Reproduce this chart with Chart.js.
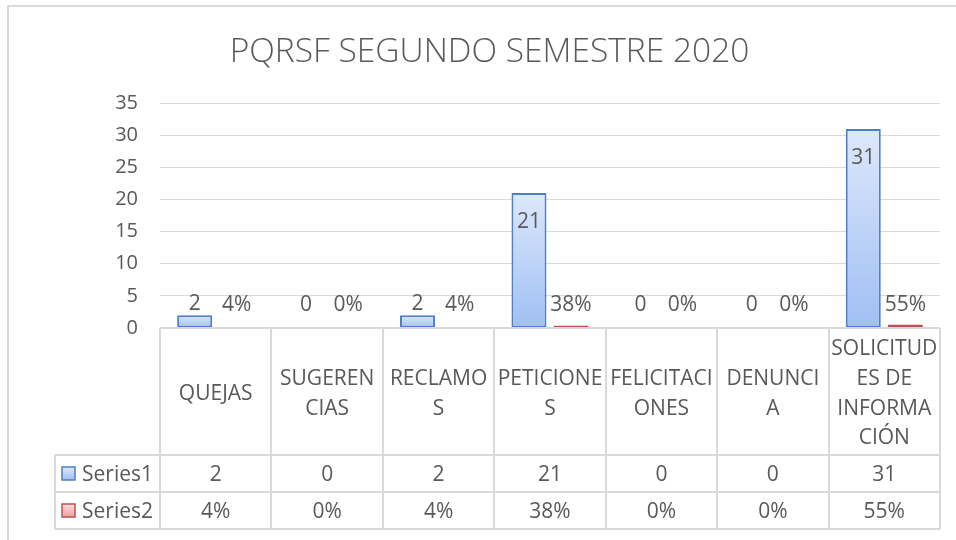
<!DOCTYPE html>
<html>
<head>
<meta charset="utf-8">
<script src="https://cdn.jsdelivr.net/npm/chart.js@4.4.1/dist/chart.umd.min.js"></script>
<style>
  html, body { margin: 0; padding: 0; background: #ffffff; }
  #wrap { position: relative; width: 956px; height: 540px; }
  canvas { display: block; }
</style>
</head>
<body>
<div id="wrap"><canvas id="c" width="956" height="540"></canvas></div>
<script>
// ---- data ----
const titleText = "PQRSF SEGUNDO SEMESTRE 2020";
const categories = [
  ["QUEJAS"],
  ["SUGEREN", "CIAS"],
  ["RECLAMO", "S"],
  ["PETICIONE", "S"],
  ["FELICITACI", "ONES"],
  ["DENUNCI", "A"],
  ["SOLICITUD", "ES DE", "INFORMA", "CIÓN"]
];
const seriesNames = ["Series1", "Series2"];
const series1 = [2, 0, 2, 21, 0, 0, 31];
const series2 = [0.04, 0, 0.04, 0.38, 0, 0, 0.55];
const yTicks = [0, 5, 10, 15, 20, 25, 30, 35];

// ---- styles ----
const FONT = "'Open Sans', 'DejaVu Sans', sans-serif";
const TXT = "#595959";
const GRID = "#d9d9d9";
const fmt1 = v => String(v);
const fmt2 = v => Math.round(v * 100) + "%";
const formatters = [fmt1, fmt2];
const fills = [["#dde8fb", "#a0bff4"], ["#fddcdc", "#f0a09e"]];
const borders = ["#4f7fc6", "#c0504d"];

function barGradient(idx) {
  return function (ctx) {
    const chart = ctx.chart;
    const area = chart.chartArea;
    if (!area || !ctx.parsed) return fills[idx][1];
    const ys = chart.scales.y;
    const top = ys.getPixelForValue(ctx.parsed.y);
    const bot = ys.getPixelForValue(0);
    const g = chart.ctx.createLinearGradient(0, Math.min(top, bot - 1), 0, bot);
    g.addColorStop(0, fills[idx][0]);
    g.addColorStop(1, fills[idx][1]);
    return g;
  };
}

const outerBorder = {
  id: "outerBorder",
  beforeDraw(chart) {
    const c = chart.ctx;
    c.save();
    c.strokeStyle = GRID;
    c.lineWidth = 2;
    c.beginPath();
    c.moveTo(8, 540);
    c.lineTo(8, 6);
    c.lineTo(956, 6);
    c.stroke();
    c.restore();
  }
};

const dataLabels = {
  id: "dataLabels",
  afterDatasetsDraw(chart) {
    const c = chart.ctx;
    const ys = chart.scales.y;
    const base = ys.getPixelForValue(0);
    c.save();
    c.font = "21px " + FONT;
    c.fillStyle = TXT;
    c.textAlign = "center";
    c.textBaseline = "middle";
    chart.data.datasets.forEach((ds, di) => {
      const meta = chart.getDatasetMeta(di);
      meta.data.forEach((bar, i) => {
        const v = ds.data[i];
        const txt = formatters[di](v);
        let y;
        if (base - bar.y > 45) {
          y = bar.y + 29;
        } else {
          y = Math.min(bar.y - 11, base - 23);
        }
        c.fillText(txt, bar.x, y);
      });
    });
    c.restore();
  }
};

const dataTable = {
  id: "dataTable",
  afterDraw(chart) {
    const c = chart.ctx;
    const area = chart.chartArea;
    const xs = chart.scales.x;
    const n = categories.length;
    const step = (area.right - area.left) / n;
    const headerBottom = area.bottom + 127;
    const rowH = 37;
    const tableBottom = headerBottom + rowH * 2;
    const tableLeft = 55;
    c.save();
    c.strokeStyle = GRID;
    c.lineWidth = 2;
    c.beginPath();
    c.moveTo(area.left, area.bottom);
    c.lineTo(area.right, area.bottom);
    for (let i = 0; i <= n; i++) {
      const x = Math.round(area.left + i * step);
      c.moveTo(x, area.bottom);
      c.lineTo(x, tableBottom);
    }
    c.moveTo(tableLeft, headerBottom);
    c.lineTo(tableLeft, tableBottom);
    for (let r = 0; r <= 2; r++) {
      const y = headerBottom + r * rowH;
      c.moveTo(tableLeft, y);
      c.lineTo(area.right, y);
    }
    c.stroke();

    c.font = "21px " + FONT;
    c.fillStyle = TXT;
    c.textBaseline = "middle";
    const rows = [series1, series2];
    rows.forEach((vals, r) => {
      const yc = headerBottom + r * rowH + rowH / 2;
      const kx = 62, ks = 13;
      const g = c.createLinearGradient(0, yc - ks / 2, 0, yc + ks / 2);
      g.addColorStop(0, fills[r][0]);
      g.addColorStop(1, fills[r][1]);
      c.fillStyle = g;
      c.fillRect(kx, yc - ks / 2, ks, ks);
      c.strokeStyle = borders[r];
      c.lineWidth = 1.5;
      c.strokeRect(kx, yc - ks / 2, ks, ks);
      c.fillStyle = TXT;
      c.textAlign = "left";
      c.fillText(seriesNames[r], 82, yc + 2);
      c.textAlign = "center";
      vals.forEach((v, i) => {
        c.fillText(formatters[r](v), xs.getPixelForValue(i), yc + 2);
      });
    });
    c.restore();
  }
};

new Chart(document.getElementById("c"), {
  type: "bar",
  data: {
    labels: categories,
    datasets: [
      {
        label: seriesNames[0],
        data: series1,
        backgroundColor: barGradient(0),
        borderColor: borders[0],
        borderWidth: 2,
        borderSkipped: false
      },
      {
        label: seriesNames[1],
        data: series2,
        backgroundColor: barGradient(1),
        borderColor: borders[1],
        borderWidth: 2,
        borderSkipped: false
      }
    ]
  },
  options: {
    responsive: false,
    animation: false,
    devicePixelRatio: 1,
    layout: { padding: { left: 39, right: 16, top: 0, bottom: 0 } },
    datasets: { bar: { categoryPercentage: 0.755, barPercentage: 0.833 } },
    plugins: {
      legend: { display: false },
      tooltip: { enabled: false },
      title: {
        display: true,
        text: titleText,
        color: TXT,
        font: { family: FONT, size: 33.5, weight: "300" },
        padding: { top: 32, bottom: 31 }
      }
    },
    scales: {
      x: {
        grid: { display: false, drawTicks: false },
        border: { display: false },
        ticks: {
          color: TXT,
          font: { family: FONT, size: 21, lineHeight: 1.42 },
          padding: 21,
          crossAlign: "center",
          maxRotation: 0,
          minRotation: 0,
          autoSkip: false
        },
        afterFit(s) { s.height = 212; s.paddingLeft = 0; s.paddingRight = 0; }
      },
      y: {
        min: 0,
        max: 35,
        afterBuildTicks(s) { s.ticks = yTicks.map(v => ({ value: v })); },
        grid: { color: GRID, lineWidth: 1, drawTicks: false },
        border: { display: false },
        ticks: {
          color: TXT,
          font: { family: FONT, size: 20 },
          padding: 22
        },
        afterFit(s) { s.width = 121; }
      }
    }
  },
  plugins: [outerBorder, dataLabels, dataTable]
});
</script>
</body>
</html>
